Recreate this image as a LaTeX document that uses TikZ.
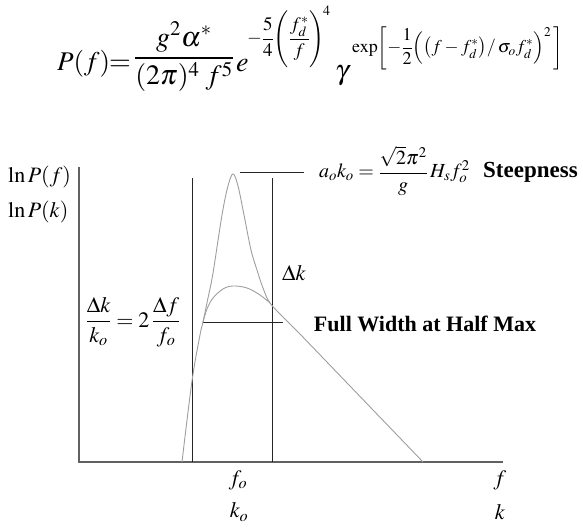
\documentclass[tikz,border=0pt]{standalone}
\usepackage{amsmath}
\usepackage{mathptmx}
\usepackage{fontspec}
\setmainfont{Liberation Serif}
\begin{document}
\begin{tikzpicture}[x=1pt,y=-1pt,
  lbl/.style={inner sep=0pt, font=\fontsize{22}{26}\selectfont},
  mid/.style={inner sep=0pt, font=\fontsize{20}{24}\selectfont},
  bold/.style={inner sep=0pt, font=\fontsize{23}{27}\selectfont\bfseries},
  big/.style={inner sep=0pt, font=\fontsize{28}{33}\selectfont},
  bigp/.style={inner sep=0pt, font=\fontsize{27}{32}\selectfont},
  sup/.style={inner sep=0pt, font=\fontsize{19}{22}\selectfont},
  sups/.style={inner sep=0pt, font=\fontsize{18}{21}\selectfont},
  axisline/.style={draw=black!62, line width=1.4pt},
  guide/.style={draw=black!85, line width=0.9pt},
  spec/.style={draw=black!38, line width=0.9pt}]
\useasboundingbox (0,0) rectangle (583,529);
% formula, in pieces
\node[bigp, anchor=base west] (pf) at (57,71) {$P(f)$};
\node[big, anchor=base] (eq) at (120,71) {$=$};
\node[big, anchor=base] (frac) at (184,65) {$\dfrac{\smash[b]{g^2\alpha^*}}{(2\pi)^4\; f^5}$};
\node[big, anchor=base west] (e) at (236,72) {$e$};
\node[sup] (eexp) at (289,37) {$-\dfrac{5}{4}\Biggl(\dfrac{f_d^*}{f}\Biggr)^{\!4}$};
\node[big, anchor=base] (gam) at (342,80) {$\gamma$};
\node[sups, anchor=west] (gexp) at (352,48) {$\exp\biggl[-\dfrac{1}{2}\Bigl(\bigl(f-f_d^*\bigr)/\,\sigma_o f_d^*\Bigr)^{2}\,\biggr]$};
% axes
\coordinate (ytop) at (79,167);
\coordinate (O) at (79,462);
\coordinate (xend) at (503,462);
\draw[axisline] (ytop) -- (O) -- (xend);
% guide lines
\coordinate (v1t) at (192,178); \coordinate (v1b) at (192,462);
\coordinate (v2t) at (272,178); \coordinate (v2b) at (272,462);
\coordinate (ht1) at (240,172); \coordinate (ht2) at (304,172);
\coordinate (hm1) at (203,322); \coordinate (hm2) at (283,322);
\draw[guide] (v1t) -- (v1b);
\draw[guide] (v2t) -- (v2b);
\draw[guide] (ht1) -- (ht2);
\draw[guide] (hm1) -- (hm2);
% spectra
\draw[spec] plot[smooth, tension=0.6] coordinates {(182,462) (192,381) (200,335) (203,322) (208,298) (213,273) (222,215) (228,186) (233,174) (238,186) (244,215) (251,250) (257,270) (263,288) (270,303) (285,319) (300,334)} -- (423,462);
\draw[spec] plot[smooth, tension=0.6] coordinates {(203,322) (207,309) (213,298) (223,289) (233,286) (247,288) (260,295) (270,303)};
% labels
\node[lbl, anchor=west] (lnpf) at (8,177) {$\ln P(f)$};
\node[lbl, anchor=west] (lnpk) at (8,212) {$\ln P(k)$};
\node[lbl] (ratio) at (133,322) {$\dfrac{\Delta k}{k_o}=2\,\dfrac{\Delta f}{f_o}$};
\node[lbl] (dk) at (294,273) {$\Delta k$};
\node[mid, anchor=base west] (steep) at (319,178) {$a_o k_o=\dfrac{\sqrt{2}\pi^2}{g}\,H_s f_o^2$};
\node[bold, anchor=base west] (steepw) at (483,178) {Steepness};
\node[lbl] (fwhm) at (425,324) {\textbf{Full Width at Half Max}};
\node[lbl] (fo) at (238,480) {$f_o$};
\node[lbl] (ko) at (239,512) {$k_o$};
\node[lbl] (f) at (500,480) {$f$};
\node[lbl] (k) at (500,512) {$k$};
\end{tikzpicture}
\end{document}
